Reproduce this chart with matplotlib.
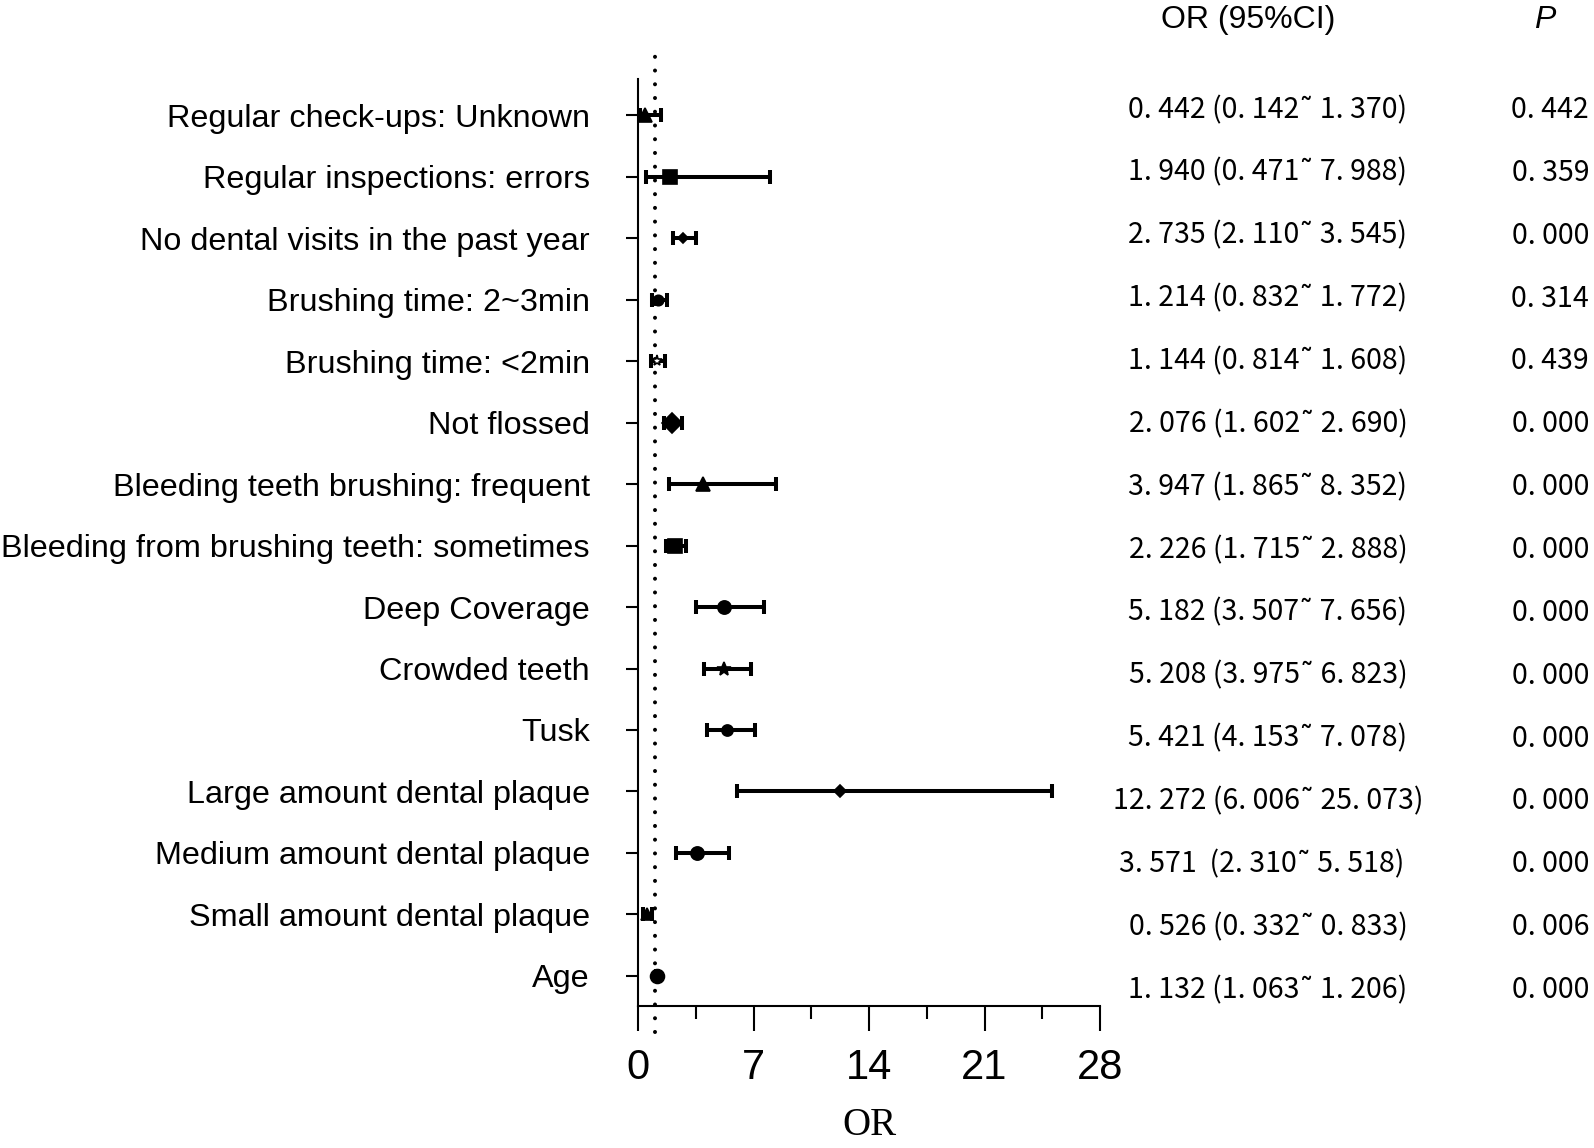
import numpy as np
import matplotlib
matplotlib.use("Agg")
import matplotlib.pyplot as plt

# rows listed top to bottom
labels = [
    "Regular check-ups: Unknown",
    "Regular inspections: errors",
    "No dental visits in the past year",
    "Brushing time: 2~3min",
    "Brushing time: <2min",
    "Not flossed",
    "Bleeding teeth brushing: frequent",
    "Bleeding from brushing teeth: sometimes",
    "Deep Coverage",
    "Crowded teeth",
    "Tusk",
    "Large amount dental plaque",
    "Medium amount dental plaque",
    "Small amount dental plaque",
    "Age",
]
or_val = [0.442, 1.940, 2.735, 1.214, 1.144, 2.076, 3.947, 2.226, 5.182, 5.208, 5.421, 12.272, 3.571, 0.526, 1.132]
ci_low = [0.142, 0.471, 2.110, 0.832, 0.814, 1.602, 1.865, 1.715, 3.507, 3.975, 4.153, 6.006, 2.310, 0.332, 1.063]
ci_high = [1.370, 7.988, 3.545, 1.772, 1.608, 2.690, 8.352, 2.888, 7.656, 6.823, 7.078, 25.073, 5.518, 0.833, 1.206]
or_text = [
    "0. 442 (0. 142˜ 1. 370)",
    "1. 940 (0. 471˜ 7. 988)",
    "2. 735 (2. 110˜ 3. 545)",
    "1. 214 (0. 832˜ 1. 772)",
    "1. 144 (0. 814˜ 1. 608)",
    "2. 076 (1. 602˜ 2. 690)",
    "3. 947 (1. 865˜ 8. 352)",
    "2. 226 (1. 715˜ 2. 888)",
    "5. 182 (3. 507˜ 7. 656)",
    "5. 208 (3. 975˜ 6. 823)",
    "5. 421 (4. 153˜ 7. 078)",
    "12. 272 (6. 006˜ 25. 073)",
    "3. 571  (2. 310˜ 5. 518)  ",
    "0. 526 (0. 332˜ 0. 833)",
    "1. 132 (1. 063˜ 1. 206)",
]
p_text = ["0. 442", "0. 359", "0. 000", "0. 314", "0. 439", "0. 000", "0. 000", "0. 000",
          "0. 000", "0. 000", "0. 000", "0. 000", "0. 000", "0. 006", "0. 000"]
x_ticks = [0, 7, 14, 21, 28]

# marker style per row
markers = ['^', 's', 'D', 'o', '*', 'D', '^', 's', 'o', '*', 'o', 'D', 'o', '^', 'o']
msizes = [10, 10, 5.5, 7.5, 8, 10, 10, 10, 9.5, 10, 8, 6, 9.5, 8.5, 10]
faces = ['black'] * 15
faces[4] = 'white'

plt.rcParams['font.family'] = ['Liberation Sans', 'DejaVu Sans']

W, H = 1594, 1148
fig = plt.figure(figsize=(W / 100, H / 100), dpi=100)
ax = fig.add_axes([638 / W, 1 - 1006 / H, (1100 - 638) / W, (1006 - 79) / H])

n = len(labels)
ypos = np.arange(n)[::-1]

# reference line at OR = 1
ax.plot([1, 1], [-0.91, 15.12], color='black', lw=2.9, linestyle=(0, (0.01, 3.4)),
        dash_capstyle='round', clip_on=False, zorder=1)

orv = np.array(or_val)
lo = np.array(ci_low)
hi = np.array(ci_high)
ax.errorbar(orv, ypos, xerr=[orv - lo, hi - orv], fmt='none', ecolor='black',
            elinewidth=2.9, capsize=4.8, capthick=2.9, zorder=2)
for i in range(n):
    ax.plot(or_val[i], ypos[i], marker=markers[i], ms=msizes[i], mfc=faces[i],
            mec='black', mew=1.2, ls='none', zorder=3, clip_on=False)

ax.set_xlim(0, 28)
ax.set_ylim(-0.49, 14.59)
ax.set_xticks(x_ticks)
ax.set_xticks(np.arange(3.5, 28, 7), minor=True)
ax.set_yticks(ypos)
ax.set_yticklabels(labels)

for s in ['top', 'right']:
    ax.spines[s].set_visible(False)
for s in ['left', 'bottom']:
    ax.spines[s].set_linewidth(1.5)

ax.tick_params(axis='x', which='major', length=18, width=1.5, labelsize=30, pad=12)
ax.tick_params(axis='x', which='minor', length=9.4, width=1.5)
ax.tick_params(axis='y', length=8.6, width=1.5, labelsize=23.3, pad=26)

ax.set_xlabel("OR", fontsize=28, family=['Liberation Serif'], labelpad=14)

# right-hand table
fig.text(1248 / W, 1 - 20 / H, "OR (95%CI)", fontsize=23, ha='center', va='center')
fig.text(1545 / W, 1 - 20 / H, "P", fontsize=23, style='italic', ha='center', va='center')
rows_px = np.linspace(118, 998, n)
for i in range(n):
    fig.text(1268 / W, 1 - rows_px[i] / H, or_text[i], fontsize=20.5, ha='center', va='baseline',
             family=['Noto Sans CJK SC', 'DejaVu Sans'])
    fig.text(1589 / W, 1 - rows_px[i] / H, p_text[i], fontsize=20.5, ha='right', va='baseline',
             family=['Noto Sans CJK SC', 'DejaVu Sans'])

fig.savefig("out.png", dpi=100)
